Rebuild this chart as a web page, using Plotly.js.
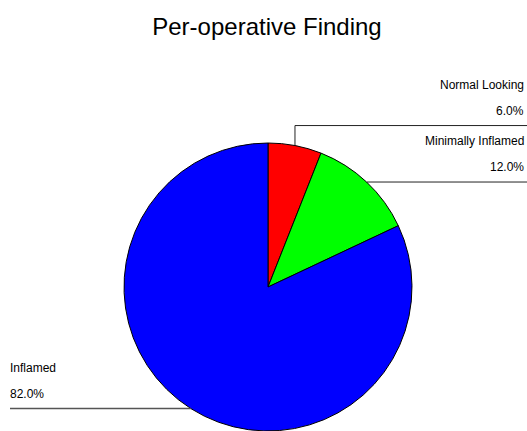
<!DOCTYPE html>
<html>
<head>
<meta charset="utf-8">
<script src="https://cdn.plot.ly/plotly-3.0.1.min.js"></script>
<style>html,body{margin:0;padding:0;background:#fff;}#chart{width:527px;height:431px;}</style>
</head>
<body>
<div id="chart"></div>
<script>
const categories = ["Normal Looking", "Minimally Inflamed", "Inflamed"];
const values = [6.0, 12.0, 82.0];
const colors = ["#ff0000", "#00ff00", "#0000ff"];

const W = 527, H = 431;
const cx = 268, cy = 287, R = 144;
const font = {family: "Liberation Sans, Arial, sans-serif", size: 12, color: "#000"};

const total = values.reduce((a, b) => a + b, 0);
const shapes = [], annotations = [];
let cum = 0;
values.forEach((v, i) => {
  const mid = (cum + v / 2) / total * 2 * Math.PI;
  cum += v;
  const px = cx + R * Math.sin(mid);
  const py = cy - R * Math.cos(mid);
  const right = Math.sin(mid) >= 0;
  const toX = x => x / W, toY = y => 1 - y / H;
  let lineY = py;
  if (i === 0) {
    lineY = py - 20;
    shapes.push({type: "line", xref: "paper", yref: "paper", x0: toX(px), y0: toY(py), x1: toX(px), y1: toY(lineY), line: {color: "#222", width: 1}});
  }
  const endX = right ? W : 10;
  shapes.push({type: "line", xref: "paper", yref: "paper", x0: toX(px), y0: toY(lineY), x1: toX(endX), y1: toY(lineY), line: {color: right ? "#222" : "#555", width: right ? 1 : 1.5}});
  const ax = right ? toX(526) : toX(8);
  const xa = right ? "right" : "left";
  annotations.push({xref: "paper", yref: "paper", x: ax, y: toY(lineY - 41), xanchor: xa, yanchor: "middle", text: categories[i], showarrow: false, font: font});
  annotations.push({xref: "paper", yref: "paper", x: ax, y: toY(lineY - 15), xanchor: xa, yanchor: "middle", text: v.toFixed(1) + "%", showarrow: false, font: font});
});

const data = [{
  type: "pie",
  labels: categories,
  values: values,
  sort: false,
  direction: "clockwise",
  rotation: 0,
  textinfo: "none",
  hoverinfo: "label+percent",
  marker: {colors: colors, line: {color: "#000", width: 1}},
  domain: {x: [(cx - R) / W, (cx + R) / W], y: [0, 2 * R / H]}
}];

const layout = {
  width: W, height: H,
  margin: {l: 0, r: 0, t: 0, b: 0},
  paper_bgcolor: "#fff",
  showlegend: false,
  title: {text: "Per-operative Finding", x: 267 / W, xanchor: "center", y: 1 - 27 / H, yanchor: "middle",
          font: {family: "Liberation Sans, Arial, sans-serif", size: 24, color: "#000"}},
  shapes: shapes,
  annotations: annotations
};

Plotly.newPlot("chart", data, layout, {displayModeBar: false, staticPlot: true});
</script>
</body>
</html>
